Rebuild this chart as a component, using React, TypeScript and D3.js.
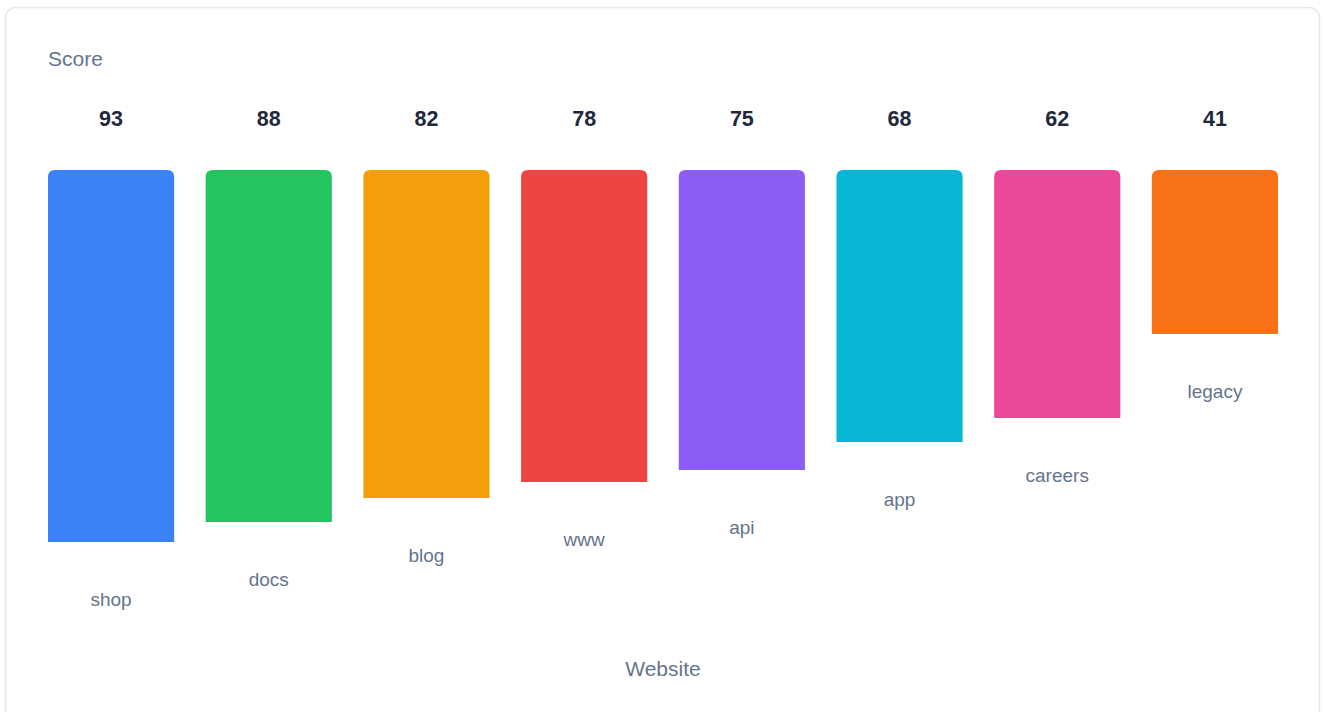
import React from "react";
import * as d3 from "d3";

const categories = ["shop", "docs", "blog", "www", "api", "app", "careers", "legacy"];
const scores = [93, 88, 82, 78, 75, 68, 62, 41];
const colors = ["#3b82f6", "#22c55e", "#f59e0b", "#ef4444", "#8b5cf6", "#06b6d4", "#ec4899", "#f97316"];
const yTitle = "Score";
const xTitle = "Website";

const W = 1323;
const H = 712;
const FONT = "'Liberation Sans', Arial, Helvetica, sans-serif";

export default function App() {
  const x = d3.scaleBand<string>().domain(categories).range([48, 1278]).paddingInner(0.2).paddingOuter(0);
  const barTop = 170;
  const h = d3.scaleLinear().domain([0, 100]).range([0, 400]);
  const r = 7;

  const barPath = (x0: number, w: number, hh: number) => {
    const p = d3.path();
    p.moveTo(x0, barTop + hh);
    p.lineTo(x0, barTop + r);
    p.quadraticCurveTo(x0, barTop, x0 + r, barTop);
    p.lineTo(x0 + w - r, barTop);
    p.quadraticCurveTo(x0 + w, barTop, x0 + w, barTop + r);
    p.lineTo(x0 + w, barTop + hh);
    p.closePath();
    return p.toString();
  };

  return (
    <svg width={W} height={H} style={{ position: "absolute", left: 0, top: 0, background: "#fff" }} fontFamily={FONT}>
      <rect x={5.5} y={7.5} width={1314} height={740} rx={10} ry={10} fill="#fff" stroke="#e5e7eb" strokeWidth={1.5} />
      <text x={48} y={66} fontSize={21} fill="#64748b">{yTitle}</text>
      {categories.map((c, i) => {
        const x0 = x(c)!;
        const w = x.bandwidth();
        const hh = h(scores[i]);
        return (
          <g key={c}>
            <text x={x0 + w / 2} y={126} textAnchor="middle" fontSize={21.5} fontWeight="bold" fill="#1e293b">{scores[i]}</text>
            <path d={barPath(x0, w, hh)} fill={colors[i]} />
            <text x={x0 + w / 2} y={barTop + hh + 64} textAnchor="middle" fontSize={19} fill="#64748b">{c}</text>
          </g>
        );
      })}
      <text x={663} y={676} textAnchor="middle" fontSize={21} fill="#64748b">{xTitle}</text>
    </svg>
  );
}
